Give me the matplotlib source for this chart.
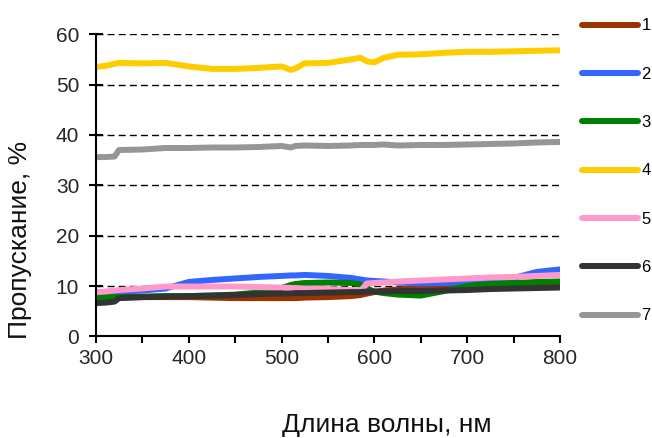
import numpy as np
import matplotlib
matplotlib.use("Agg")
import matplotlib.pyplot as plt
from matplotlib.ticker import MultipleLocator

plt.rcParams['font.family'] = ['Liberation Sans', 'DejaVu Sans']

# Transmission spectra, %
wavelength = [300, 310, 320, 325, 350, 375, 400, 425, 450, 475, 500, 510, 515,
              525, 550, 575, 585, 592, 600, 610, 625, 650, 675, 700, 725, 750,
              775, 800]

s1 = [7.8, 7.7, 7.6, 7.7, 7.8, 7.8, 7.8, 7.7, 7.6, 7.6, 7.6, 7.6, 7.6,
      7.7, 7.8, 8.0, 8.2, 8.5, 8.8, 9.1, 9.3, 9.6, 9.9, 10.1, 10.2, 10.3,
      10.5, 10.7]
s2 = [8.6, 8.7, 8.8, 8.9, 9.1, 9.5, 10.8, 11.2, 11.5, 11.8, 12.0, 12.1, 12.1,
      12.2, 12.0, 11.6, 11.3, 11.1, 11.0, 10.9, 10.7, 10.5, 10.6, 10.8, 11.0, 11.6,
      12.8, 13.3]
s3 = [7.8, 7.8, 7.8, 7.8, 7.9, 8.0, 8.0, 8.1, 8.3, 8.7, 9.6, 10.2, 10.4,
      10.6, 10.7, 10.6, 10.3, 9.5, 8.9, 8.6, 8.3, 8.1, 9.0, 10.0, 10.4, 10.6,
      10.8, 10.9]
s4 = [53.5, 53.7, 54.1, 54.3, 54.2, 54.3, 53.6, 53.1, 53.1, 53.3, 53.6, 52.9, 53.2,
      54.2, 54.3, 55.0, 55.3, 54.6, 54.4, 55.3, 55.9, 56.0, 56.3, 56.5, 56.5, 56.6,
      56.7, 56.8]
s5 = [8.8, 8.9, 9.1, 9.2, 9.5, 9.9, 9.9, 9.9, 9.9, 9.8, 9.7, 9.6, 9.6,
      9.5, 9.4, 9.2, 9.0, 10.5, 10.6, 10.7, 10.9, 11.1, 11.3, 11.5, 11.7, 11.8,
      12.0, 12.2]
s6 = [6.6, 6.7, 6.9, 7.6, 7.8, 7.9, 8.0, 8.1, 8.2, 8.4, 8.5, 8.5, 8.6,
      8.6, 8.7, 8.8, 8.8, 8.9, 8.9, 8.9, 9.0, 9.0, 9.1, 9.2, 9.4, 9.5,
      9.6, 9.7]
s7 = [35.6, 35.6, 35.7, 37.0, 37.1, 37.4, 37.4, 37.5, 37.5, 37.6, 37.8, 37.5, 37.8,
      37.9, 37.8, 37.9, 38.0, 38.0, 38.0, 38.1, 37.9, 38.0, 38.0, 38.1, 38.2, 38.3,
      38.5, 38.6]

labels = ['1', '2', '3', '4', '5', '6', '7']
colors = ['#993300', '#3366FF', '#008000', '#FFCC00', '#FF99CC', '#333333', '#969696']

fig = plt.figure(figsize=(6.52, 4.38), dpi=100)
ax = fig.add_axes([0.147, 0.232, 0.712, 0.690])

for s, lab, c in zip([s1, s2, s3, s4, s5, s6, s7], labels, colors):
    ax.plot(wavelength, s, color=c, lw=4.3, label=lab, solid_capstyle='round')

ax.set_xlim(300, 800)
ax.set_ylim(0, 60)
ax.xaxis.set_major_locator(MultipleLocator(100))
ax.xaxis.set_minor_locator(MultipleLocator(50))
ax.yaxis.set_major_locator(MultipleLocator(10))

ax.grid(axis='y', color='black', linestyle=(0, (5, 3)), lw=1.0)
ax.set_axisbelow(True)
for side in ['top', 'right']:
    ax.spines[side].set_visible(False)
for side in ['left', 'bottom']:
    ax.spines[side].set_linewidth(1.5)
ax.tick_params(axis='x', which='both', direction='out', length=5, width=1.5,
               labelsize=15, pad=4)
ax.tick_params(axis='y', direction='inout', length=10, width=1.5,
               labelsize=15, pad=7)
for t in ax.get_xticklabels() + ax.get_yticklabels():
    t.set_color('#262626')

fig.text(0.594, 0.03, 'Длина волны, нм', ha='center', va='center',
         fontsize=19, color='#111111')
fig.text(0.030, 0.452, 'Пропускание, %', ha='center', va='center',
         rotation=90, fontsize=19, color='#111111')

fig.legend(loc='upper left', bbox_to_anchor=(0.893, 0.958), frameon=False,
           fontsize=12, handlelength=3.35, handletextpad=0.2,
           labelspacing=2.0, borderpad=0, borderaxespad=0)

fig.savefig('out.png', dpi=100)
